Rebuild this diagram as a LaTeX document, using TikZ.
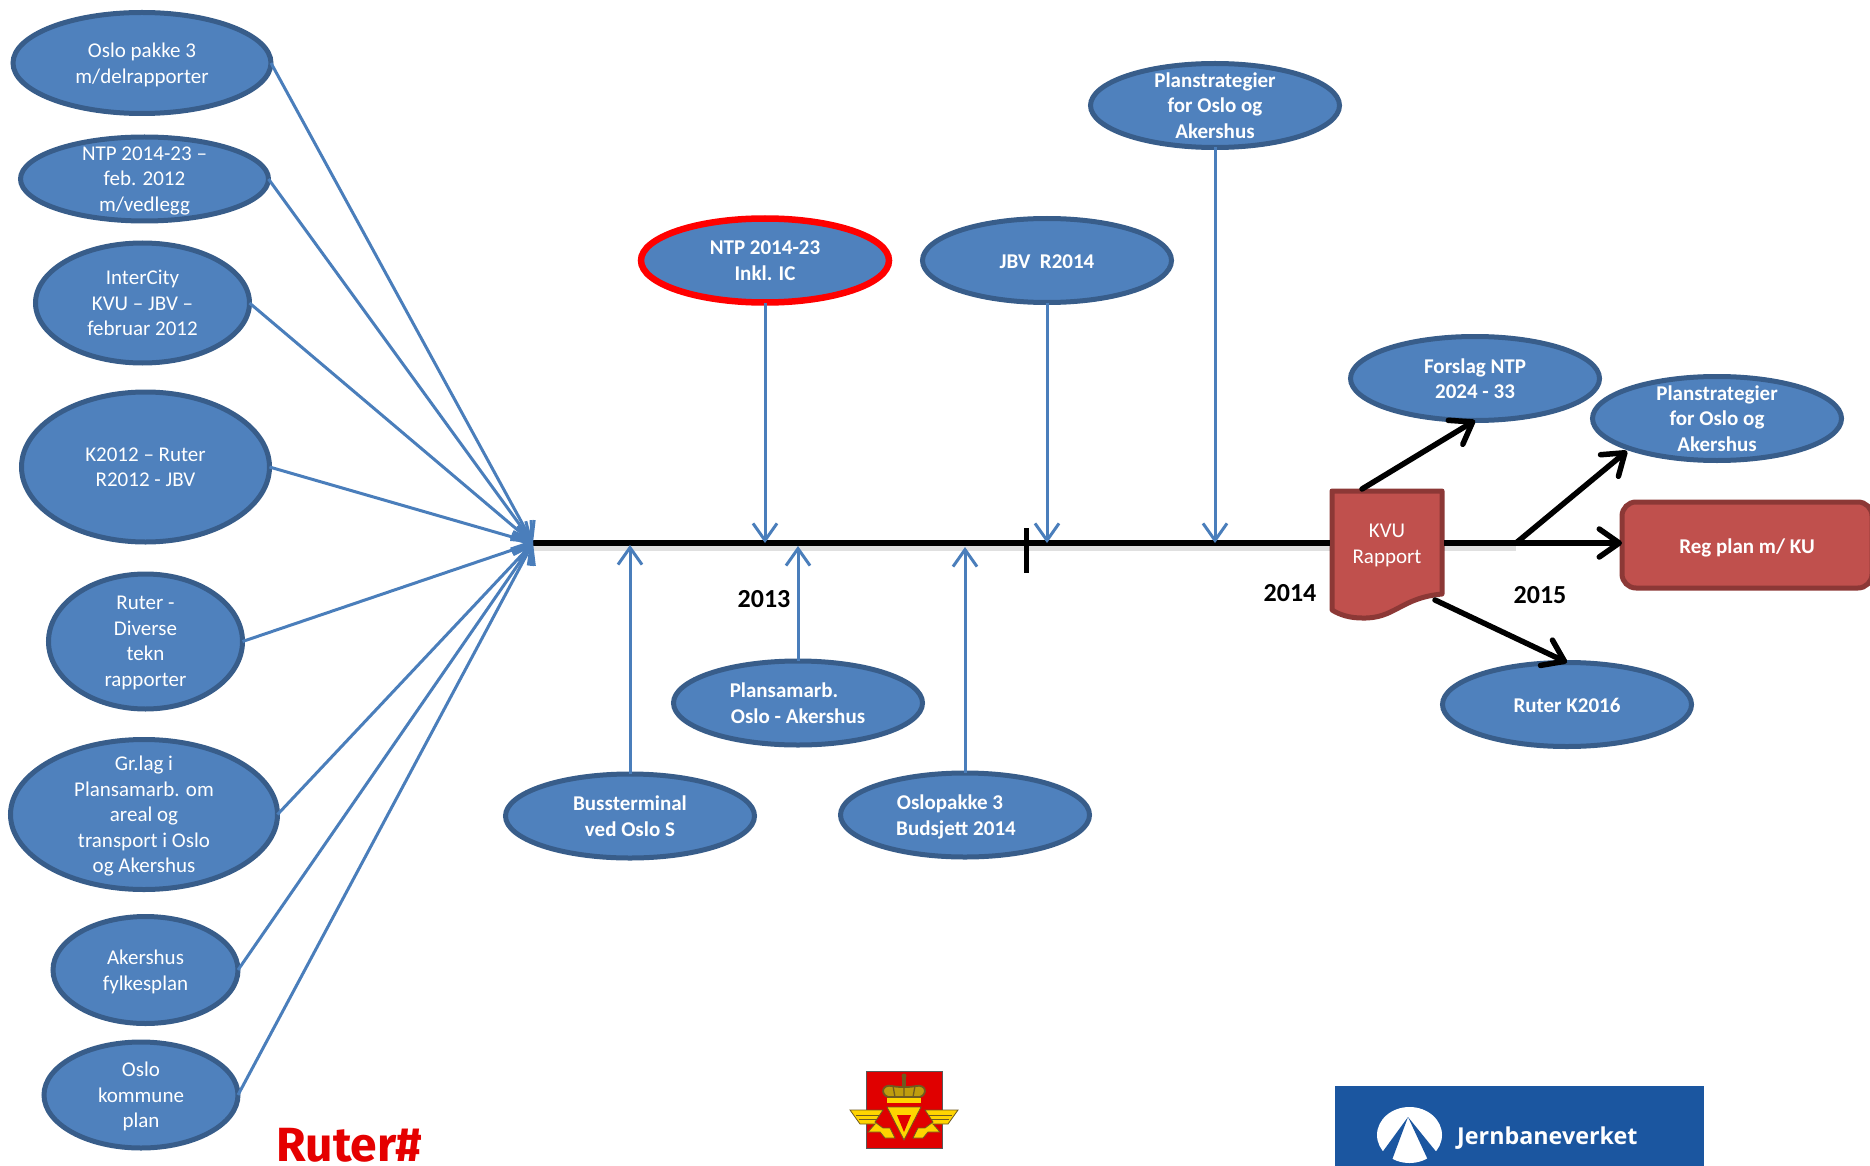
\documentclass[tikz,border=0pt]{standalone}
\usepackage{fontspec}
\setmainfont{Carlito}
\newfontfamily\logofont{Fira Sans}
\newfontfamily\jbvfont{Open Sans}
\usetikzlibrary{shapes.geometric,arrows.meta}
\definecolor{bfill}{HTML}{4F81BD}
\definecolor{bdraw}{HTML}{385D8A}
\definecolor{bline}{HTML}{4A7EBB}
\definecolor{rfill}{HTML}{C0504D}
\definecolor{rdraw}{HTML}{8C3836}
\definecolor{jbvblue}{HTML}{1B56A0}
\definecolor{logogold}{HTML}{FFD400}
\definecolor{logodark}{HTML}{6E5A20}
\newcommand{\topstrut}{\rule{0pt}{27pt}}
\newcommand{\botstrut}{\rule[-6pt]{0pt}{6pt}}
\newcommand{\oneline}[1]{\raisebox{2.5pt}{#1}}
\tikzset{
  struts/.style={execute at begin node=\topstrut,execute at end node=\botstrut},
  multi/.style={text depth=-1.2pt},
  single/.style={text depth=6pt},
  bell/.style 2 args={ellipse,draw=bdraw,fill=bfill,line width=5pt,minimum width=#1pt,minimum height=#2pt,
    inner sep=-40pt,outer sep=0pt,align=center,text=white,font=\fontsize{21}{25.5}\selectfont,struts,multi},
  bbold/.style={font=\fontsize{21}{25.5}\selectfont\bfseries},
  redring/.style={draw=red,line width=6.5pt},
  inarrow/.style={draw=bline,line width=3pt,-{Straight Barb[length=17pt,width=24pt,line width=3pt]}},
  outarrow/.style={draw=black,line width=5.5pt,line cap=round,-{Straight Barb[length=20pt,width=28pt,line width=5.5pt,round]}},
  spineline/.style={draw=black,line width=5.5pt,preaction={draw=black,opacity=.12,line width=9pt,transform canvas={yshift=-3pt}}},
  year/.style={font=\fontsize{26}{30}\selectfont\bfseries,text=black,inner sep=0pt},
}
\begin{document}
\begin{tikzpicture}[x=1pt,y=-1pt]
\useasboundingbox (0,0) rectangle (1870,1166);
\clip (0,0) rectangle (1870,1166);
% left column
\node[bell={258}{101}] (e1) at (142,63) {Oslo pakke 3\\m/delrapporter};
\node[bell={248}{84}] (e2) at (144.5,179) {NTP 2014-23 --\\feb. 2012\\m/vedlegg};
\node[bell={214}{120}] (e3) at (142.5,303) {InterCity\\KVU -- JBV --\\februar 2012};
\node[bell={248}{150}] (e4) at (145.5,467) {K2012 -- Ruter\\R2012 - JBV};
\node[bell={194}{135}] (e5) at (145.5,641.5) {Ruter -\\Diverse\\tekn\\rapporter};
\node[bell={267}{150}] (e6) at (144,814.5) {Gr.lag i\\Plansamarb. om\\areal og\\transport i Oslo\\og Akershus};
\node[bell={185}{107}] (e7) at (145.5,970) {Akershus\\fylkesplan};
\node[bell={194}{106}] (e8) at (141,1095) {Oslo\\kommune\\plan};
% timeline ellipses
\node[bell={248}{84},bbold,redring] (ntp) at (765,260.5) {NTP 2014-23\\Inkl. IC};
\node[bell={249}{84},bbold,single] (jbv) at (1047,260.5) {\oneline{JBV\ \ R2014}};
\node[bell={249}{84},bbold] (plantop) at (1215,105.5) {Planstrategier\\for Oslo og\\Akershus};
\node[bell={249}{84},bbold] (forslag) at (1475,378.5) {Forslag NTP\\2024 - 33};
\node[bell={249}{84},bbold] (planright) at (1717,418.5) {Planstrategier\\for Oslo og\\Akershus};
\node[bell={249}{84},bbold,single] (k2016) at (1567,704.5) {\oneline{Ruter K2016}};
\node[bell={249}{84},bbold] (plansam) at (798,703) {Plansamarb.\rule{28pt}{0pt}\\Oslo - Akershus};
\node[bell={249}{84},bbold] (buss) at (630,816) {Bussterminal\\ved Oslo S};
\node[bell={249}{84},bbold] (oslop) at (965,815) {Oslopakke 3\rule{30pt}{0pt}\\Budsjett 2014\rule{18pt}{0pt}};
% KVU document
\draw[fill=rfill,draw=rdraw,line width=5pt,line join=round] (1332,491) -- (1442,491) -- (1442,594)
  .. controls (1400,598) and (1395,619) .. (1362,618)
  .. controls (1350,618) and (1340,615) .. (1332,610) -- cycle;
\node[minimum width=114pt,minimum height=110pt,inner sep=0pt,outer sep=0pt,align=center,text=white,struts,multi,
  font=\fontsize{21}{25.5}\selectfont] (kvu) at (1387,544) {KVU\\Rapport};
% Reg plan
\node[draw=rdraw,fill=rfill,line width=5pt,rounded corners=14pt,minimum width=250pt,minimum height=86pt,
  inner sep=0pt,outer sep=0pt,text=white,bbold,struts] (reg) at (1747,545) {\oneline{Reg plan m/ KU}};
% spine
\coordinate (hub) at (533,543);
\coordinate (branch) at (1516,543);
\draw[spineline] (hub) -- (kvu.west |- hub);
\draw[spineline] (kvu.east |- hub) -- (branch);
\draw[outarrow] (branch) -- (reg.west |- branch);
\draw[draw=black,line width=5pt] (1026,528) -- (1026,573);
% blue in-arrows
\foreach \n in {e1,e2,e3,e4,e5,e6,e7,e8}{\draw[inarrow] (\n.east) -- (hub);}
\draw[inarrow] (ntp.south) -- (ntp.south |- hub);
\draw[inarrow] (jbv.south) -- (jbv.south |- hub);
\draw[inarrow] (plantop.south) -- (plantop.south |- hub);
\coordinate (uptip1) at (630,545);
\coordinate (uptip2) at (798,546);
\coordinate (uptip3) at (965,547);
\draw[inarrow] (buss.north) -- (uptip1);
\draw[inarrow] (plansam.north) -- (uptip2);
\draw[inarrow] (oslop.north) -- (uptip3);
% black out-arrows
\coordinate (kvutop) at (1362,489);
\coordinate (kvubot) at (1435,600);
\coordinate (planrighttip) at (1627,451);
\draw[outarrow] (kvutop) -- (forslag.south);
\draw[outarrow] (branch) -- (planrighttip);
\draw[outarrow] (kvubot) -- (k2016.north);
% years
\node[year] (y13) at (764,599) {2013};
\node[year] (y14) at (1290,593) {2014};
\node[year] (y15) at (1540,595) {2015};
% Ruter logo
\node[anchor=base west,inner sep=0pt,text depth=0pt,text=red!90!black,font=\logofont\fontsize{48}{48}\selectfont\bfseries] (ruter) at (276,1161) {Ruter\#};
% Road authority logo
\fill[red!88!black,draw=gray!70!black,line width=1pt] (866,1071) rectangle (942,1148);
\fill[logodark] (904,1076) circle (2.5pt);
\fill[logodark] (902,1077) rectangle (906,1088);
\fill[logogold!55!logodark,draw=logodark,line width=1.8pt] (888,1097) .. controls (880,1094) and (882,1084) .. (892,1086) .. controls (897,1087) and (901,1087) .. (904,1087) .. controls (907,1087) and (911,1087) .. (916,1086) .. controls (926,1084) and (928,1094) .. (920,1097) -- cycle;
\draw[logodark,line width=1.3pt] (893,1086) -- (895,1097) (904,1087) -- (904,1097) (915,1086) -- (913,1097);
\fill[logogold] (887,1098) rectangle (921,1103);
\foreach \s/\o in {1/0,-1/1808}{
  \begin{scope}[shift={(\o,0)},xscale=\s]
  \fill[logogold,draw=logodark,line width=.8pt] (850,1110) -- (883,1110) -- (875,1122) -- (883,1128) -- (890,1128) -- (895,1138) -- (885,1138) -- (880,1132) -- (868,1132) -- (875,1124) -- (860,1124) -- cycle;
  \draw[logodark,line width=.7pt] (856,1115) -- (879,1115) (859,1119) -- (877,1119);
  \end{scope}
}
\fill[logogold,draw=logodark,line width=.8pt] (887,1107) -- (921,1107) -- (904,1140) -- cycle;
\fill[red!88!black] (897,1115) -- (911,1115) -- (904,1132) -- cycle;
% Jernbaneverket logo
\fill[jbvblue] (1335,1086) rectangle (1704,1166);
\fill[white] (1409.5,1135) ellipse (32.5pt and 28pt);
\fill[jbvblue] (1408,1117) -- (1381,1154) -- (1392,1160) -- cycle;
\fill[jbvblue] (1408,1117) -- (1438,1154) -- (1428,1160) -- cycle;
\node[anchor=base west,inner sep=0pt,text=white,font=\jbvfont\fontsize{23.3}{24}\selectfont\bfseries] (jbvlogo) at (1457,1144) {Jernbaneverket};
\end{tikzpicture}
\end{document}
